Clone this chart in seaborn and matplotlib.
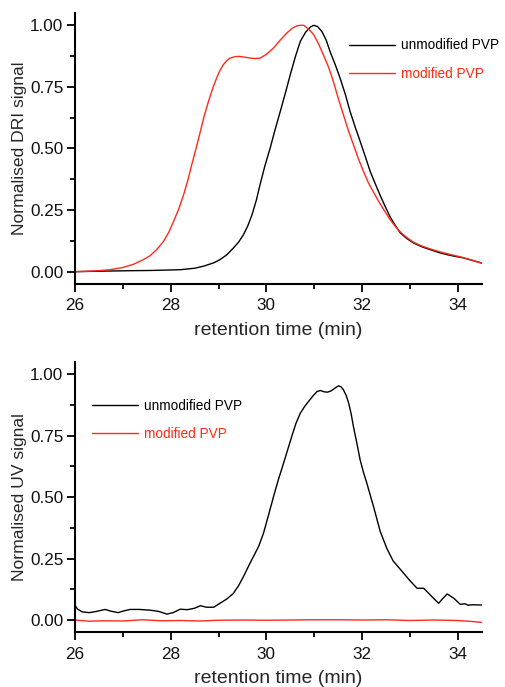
import matplotlib
matplotlib.use("Agg")
import matplotlib.pyplot as plt
import seaborn as sns
import numpy as np
import pandas as pd
from matplotlib.ticker import MultipleLocator, FormatStrFormatter

# ---------------- data ----------------
dri_unmod_t = [26.0, 26.5, 27.15, 27.6, 28.2, 28.5, 28.68, 28.9, 29.03, 29.17, 29.31,
               29.42, 29.52, 29.61, 29.70, 29.79, 29.87, 29.97, 30.08, 30.18, 30.29,
               30.40, 30.50, 30.61, 30.71, 30.82, 30.92, 30.99, 31.07, 31.16, 31.25,
               31.33, 31.44, 31.54, 31.65, 31.75, 31.86, 31.96, 32.07, 32.17, 32.28,
               32.38, 32.49, 32.59, 32.70, 32.80, 32.94, 33.08, 33.25, 33.43, 33.60,
               33.78, 33.95, 34.12, 34.30, 34.5]
dri_unmod_v = [0.0, 0.002, 0.004, 0.005, 0.008, 0.014, 0.022, 0.036, 0.049, 0.068, 0.096,
               0.120, 0.150, 0.185, 0.231, 0.290, 0.355, 0.430, 0.502, 0.575, 0.650,
               0.727, 0.800, 0.875, 0.935, 0.972, 0.993, 1.000, 0.995, 0.975, 0.940,
               0.894, 0.840, 0.786, 0.720, 0.650, 0.585, 0.529, 0.466, 0.407, 0.355,
               0.309, 0.262, 0.221, 0.186, 0.157, 0.134, 0.116, 0.101, 0.089, 0.078,
               0.069, 0.062, 0.056, 0.046, 0.035]

dri_mod_t = [26.0, 26.4, 26.73, 27.0, 27.22, 27.43, 27.57, 27.71, 27.85, 27.96, 28.06,
             28.17, 28.27, 28.36, 28.44, 28.53, 28.62, 28.70, 28.79, 28.88, 28.96,
             29.03, 29.10, 29.17, 29.24, 29.33, 29.42, 29.54, 29.66, 29.77, 29.87,
             30.0, 30.15, 30.29, 30.43, 30.54, 30.64, 30.71, 30.78, 30.88, 30.99,
             31.09, 31.19, 31.30, 31.40, 31.50, 31.61, 31.71, 31.82, 31.92, 32.03,
             32.13, 32.24, 32.35, 32.45, 32.55, 32.65, 32.75, 32.85, 32.96, 33.08,
             33.25, 33.43, 33.60, 33.78, 33.95, 34.12, 34.30, 34.5]
dri_mod_v = [0.0, 0.003, 0.008, 0.017, 0.030, 0.049, 0.065, 0.090, 0.123, 0.160, 0.204,
             0.255, 0.312, 0.372, 0.434, 0.500, 0.569, 0.632, 0.691, 0.745, 0.786,
             0.817, 0.840, 0.856, 0.867, 0.872, 0.874, 0.871, 0.867, 0.865, 0.867,
             0.882, 0.908, 0.940, 0.969, 0.988, 0.998, 1.000, 1.000, 0.985, 0.962,
             0.925, 0.881, 0.830, 0.772, 0.705, 0.637, 0.575, 0.515, 0.460, 0.407,
             0.362, 0.322, 0.285, 0.253, 0.222, 0.195, 0.171, 0.152, 0.135, 0.119,
             0.104, 0.092, 0.082, 0.073, 0.065, 0.057, 0.047, 0.035]

uv_unmod_t = [26.0, 26.05, 26.15, 26.3, 26.45, 26.63, 26.75, 26.9, 27.0, 27.15, 27.35,
              27.57, 27.75, 27.92, 28.05, 28.2, 28.35, 28.5, 28.62, 28.75, 28.9,
              29.03, 29.17, 29.31, 29.42, 29.52, 29.63, 29.73, 29.84, 29.94, 30.05,
              30.15, 30.25, 30.36, 30.45, 30.53, 30.62, 30.71, 30.80, 30.88, 30.97,
              31.06, 31.13, 31.20, 31.27, 31.34, 31.40, 31.46, 31.51, 31.56, 31.61,
              31.67, 31.72, 31.77, 31.82, 31.89, 31.96, 32.03, 32.10, 32.24, 32.38,
              32.52, 32.65, 32.87, 33.0, 33.15, 33.29, 33.46, 33.60, 33.70, 33.78,
              33.92, 34.05, 34.15, 34.22, 34.30, 34.5]
uv_unmod_v = [0.060, 0.045, 0.033, 0.030, 0.035, 0.043, 0.036, 0.030, 0.036, 0.043, 0.043,
              0.040, 0.035, 0.024, 0.030, 0.044, 0.042, 0.048, 0.058, 0.052, 0.052,
              0.068, 0.085, 0.108, 0.140, 0.176, 0.220, 0.258, 0.300, 0.353, 0.430,
              0.502, 0.570, 0.638, 0.695, 0.746, 0.800, 0.841, 0.868, 0.888, 0.910,
              0.929, 0.933, 0.928, 0.926, 0.930, 0.938, 0.946, 0.952, 0.948, 0.936,
              0.912, 0.882, 0.840, 0.786, 0.720, 0.651, 0.600, 0.556, 0.461, 0.360,
              0.290, 0.240, 0.190, 0.160, 0.129, 0.129, 0.095, 0.068, 0.090, 0.106,
              0.088, 0.064, 0.066, 0.060, 0.062, 0.061]

uv_mod_t = [26.0, 26.3, 26.6, 27.0, 27.4, 27.8, 28.2, 28.6, 29.0, 29.5, 30.0, 30.5,
            31.0, 31.5, 32.0, 32.5, 33.0, 33.5, 34.0, 34.3, 34.5]
uv_mod_v = [0.000, -0.005, -0.003, -0.004, 0.001, -0.003, -0.002, -0.004, -0.001, 0.000,
            -0.001, 0.000, 0.001, 0.001, 0.000, 0.001, -0.002, 0.000, -0.002, -0.006, -0.010]

labels = ["unmodified PVP", "modified PVP"]
colors = ["#000000", "#ff2a1a"]

# ---------------- figure ----------------
sns.set_theme(style="ticks")
plt.rcParams["font.family"] = ["Liberation Sans", "DejaVu Sans"]

fig = plt.figure(figsize=(5.05, 6.87), dpi=100)
ax1 = fig.add_axes([0.1485, 0.5866, 0.8053, 0.3945])
ax2 = fig.add_axes([0.1485, 0.0796, 0.8053, 0.3939])


def style(ax, ylabel):
    ax.set_xlim(26, 34.5)
    ax.set_ylim(-0.05, 1.05)
    ax.xaxis.set_major_locator(MultipleLocator(2))
    ax.xaxis.set_minor_locator(MultipleLocator(1))
    ax.yaxis.set_major_locator(MultipleLocator(0.25))
    ax.yaxis.set_minor_locator(MultipleLocator(0.125))
    ax.yaxis.set_major_formatter(FormatStrFormatter("%.2f"))
    for s in ["top", "right"]:
        ax.spines[s].set_visible(False)
    for s in ["left", "bottom"]:
        ax.spines[s].set_linewidth(1.5)
        ax.spines[s].set_color("black")
    ax.tick_params(which="major", direction="out", length=5.8, width=1.3,
                   labelsize=12.3, pad=2.5, color="black", labelcolor="#111111")
    ax.tick_params(axis="x", which="major", pad=4.5)
    ax.tick_params(which="minor", direction="out", length=3.4, width=1.3, color="black")
    ax.set_xlabel("retention time (min)", fontsize=14, labelpad=6)
    ax.set_ylabel(ylabel, fontsize=12.6, labelpad=2)


def legend(ax, anchor):
    ax.legend(loc="upper left", bbox_to_anchor=anchor, frameon=False,
              fontsize=9.8, handlelength=3.4, handletextpad=0.45, labelspacing=1.05,
              labelcolor="linecolor", borderaxespad=0.0)


df1 = pd.DataFrame({"t": dri_unmod_t, "v": dri_unmod_v})
df2 = pd.DataFrame({"t": dri_mod_t, "v": dri_mod_v})
sns.lineplot(data=df1, x="t", y="v", ax=ax1, color=colors[0], lw=1.0, label=labels[0])
sns.lineplot(data=df2, x="t", y="v", ax=ax1, color=colors[1], lw=1.0, label=labels[1])
style(ax1, "Normalised DRI signal")
legend(ax1, (0.66, 0.926))

df3 = pd.DataFrame({"t": uv_unmod_t, "v": uv_unmod_v})
df4 = pd.DataFrame({"t": uv_mod_t, "v": uv_mod_v})
sns.lineplot(data=df3, x="t", y="v", ax=ax2, color=colors[0], lw=1.0, label=labels[0])
sns.lineplot(data=df4, x="t", y="v", ax=ax2, color=colors[1], lw=1.0, label=labels[1])
style(ax2, "Normalised UV signal")
legend(ax2, (0.028, 0.884))

fig.savefig("out.png", dpi=100)
